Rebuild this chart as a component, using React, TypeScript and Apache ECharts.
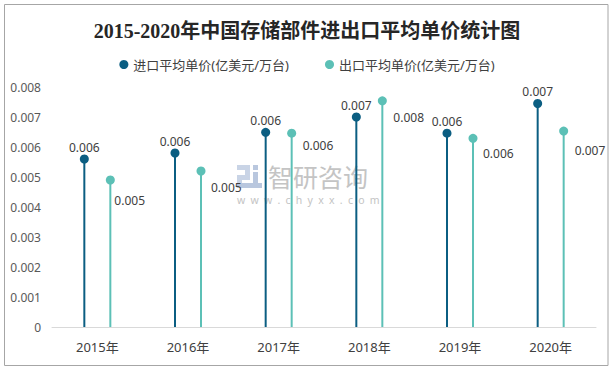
import React, { useEffect, useRef } from "react";
import * as echarts from "echarts";

const categories = ["2015年", "2016年", "2017年", "2018年", "2019年", "2020年"];
const importPrice = [0.0056, 0.0058, 0.00649, 0.007, 0.00646, 0.00745];
const exportPrice = [0.0049, 0.0052, 0.00646, 0.00754, 0.00629, 0.00653];
const seriesNames = ["进口平均单价(亿美元/万台)", "出口平均单价(亿美元/万台)"];
const yTicks = { min: 0, max: 0.008, interval: 0.001 };

// export label placement (px offset of label from its dot, as in the reference)
const exportLabelDx = [4, 10, 11, 11, 10, 11];
const exportLabelDy = [21, 17, 13, 18, 16, 20];

const IMPORT_COLOR = "#0b5e82";
const EXPORT_COLOR = "#5cc0b6";
const FONT = "'Noto Sans', 'Noto Sans CJK SC', sans-serif";
const WATERMARK_URL = "w\u2002w\u2002w\u2002.\u2002c\u2002h\u2002y\u2002x\u2002x\u2002.\u2002c\u2002o\u2002m";

export default function App() {
  const ref = useRef<HTMLDivElement>(null);
  useEffect(() => {
    document.body.style.margin = "0";
    const chart = echarts.init(ref.current!, null, { renderer: "svg" });
    const fmt = (p: any) => Number(p.value).toFixed(3);
    chart.setOption({
      animation: false,
      textStyle: { fontFamily: FONT },
      title: {
        text: "2015-2020年中国存储部件进出口平均单价统计图",
        left: "center",
        top: 16,
        textStyle: {
          fontFamily: "'Liberation Serif', 'DejaVu Serif', 'Noto Sans CJK SC', serif",
          fontWeight: "bold",
          fontSize: 20,
          color: "#262626",
        },
      },
      legend: {
        top: 53,
        left: "center",
        itemGap: 36,
        itemWidth: 9,
        itemHeight: 9,
        textStyle: { fontSize: 13, color: "#404040", fontFamily: FONT },
        data: [
          { name: seriesNames[0], icon: "circle", itemStyle: { color: IMPORT_COLOR } },
          { name: seriesNames[1], icon: "circle", itemStyle: { color: EXPORT_COLOR } },
        ],
      },
      grid: { left: 52, right: 18, top: 87, bottom: 41 },
      xAxis: {
        type: "category",
        data: categories,
        axisLine: { lineStyle: { color: "#d9d9d9", width: 1 } },
        axisTick: { show: false },
        axisLabel: { fontSize: 13, color: "#404040", margin: 13 },
      },
      yAxis: {
        type: "value",
        min: yTicks.min,
        max: yTicks.max,
        interval: yTicks.interval,
        axisLine: { show: false },
        axisTick: { show: false },
        splitLine: { show: false },
        axisLabel: {
          fontSize: 12,
          color: "#595959",
          margin: 11,
          formatter: (v: number) => (v === 0 ? "0" : v.toFixed(3)),
        },
      },
      graphic: [
        {
          type: "rect",
          shape: { x: 4.5, y: 4.5, width: 603.5, height: 361 },
          style: { fill: "none", stroke: "#a6a6a6", lineWidth: 1 },
          silent: true,
          z: -10,
        },
        {
          type: "group",
          z: -5,
          silent: true,
          children: [
            { type: "rect", shape: { x: 237, y: 165, width: 13, height: 5 }, style: { fill: "#c9d4e6" } },
            { type: "rect", shape: { x: 245, y: 165, width: 5, height: 15 }, style: { fill: "#c9d4e6" } },
            { type: "rect", shape: { x: 237, y: 175, width: 13, height: 5 }, style: { fill: "#c9d4e6" } },
            { type: "rect", shape: { x: 237, y: 175, width: 5, height: 13 }, style: { fill: "#c9d4e6" } },
            { type: "rect", shape: { x: 237, y: 183, width: 25, height: 5 }, style: { fill: "#b9c7de" } },
            { type: "rect", shape: { x: 253, y: 165, width: 5, height: 5 }, style: { fill: "#b9c7de" } },
            { type: "rect", shape: { x: 253, y: 172, width: 5, height: 12 }, style: { fill: "#b9c7de" } },
            {
              type: "text",
              x: 268,
              y: 163,
              style: {
                text: "智研咨询",
                font: "25px 'Noto Sans CJK SC', sans-serif",
                lineHeight: 25,
                fill: "#c4c4c4",
                verticalAlign: "top",
              },
            },
            {
              type: "text",
              x: 237,
              y: 194,
              style: {
                text: WATERMARK_URL,
                font: "10.5px 'Noto Sans', sans-serif",
                lineHeight: 11,
                fill: "#c4c4c4",
                verticalAlign: "top",
              },
            },
          ],
        },
      ],
      series: [
        {
          name: seriesNames[0],
          type: "bar",
          data: importPrice,
          barWidth: 2,
          barGap: "1200%",
          itemStyle: { color: IMPORT_COLOR },
          label: {
            show: true,
            position: "top",
            distance: 6,
            fontSize: 12,
            color: "#404040",
            formatter: fmt,
          },
          z: 2,
        },
        {
          name: seriesNames[1],
          type: "bar",
          data: exportPrice.map((v, i) => ({
            value: v,
            label: { position: [exportLabelDx[i] + 1, exportLabelDy[i] - 7] },
          })),
          barWidth: 2,
          barGap: "1200%",
          itemStyle: { color: EXPORT_COLOR },
          label: {
            show: true,
            fontSize: 12,
            color: "#404040",
            formatter: fmt,
          },
          z: 2,
        },
        {
          name: seriesNames[0],
          type: "scatter",
          data: importPrice,
          symbol: "circle",
          symbolSize: 9,
          symbolOffset: [-13, 0],
          itemStyle: { color: IMPORT_COLOR, opacity: 1 },
          z: 3,
        },
        {
          name: seriesNames[1],
          type: "scatter",
          data: exportPrice,
          symbol: "circle",
          symbolSize: 9,
          symbolOffset: [13, 0],
          itemStyle: { color: EXPORT_COLOR, opacity: 1 },
          z: 3,
        },
      ],
    });
    return () => chart.dispose();
  }, []);
  return <div ref={ref} style={{ width: 614, height: 368 }} />;
}
